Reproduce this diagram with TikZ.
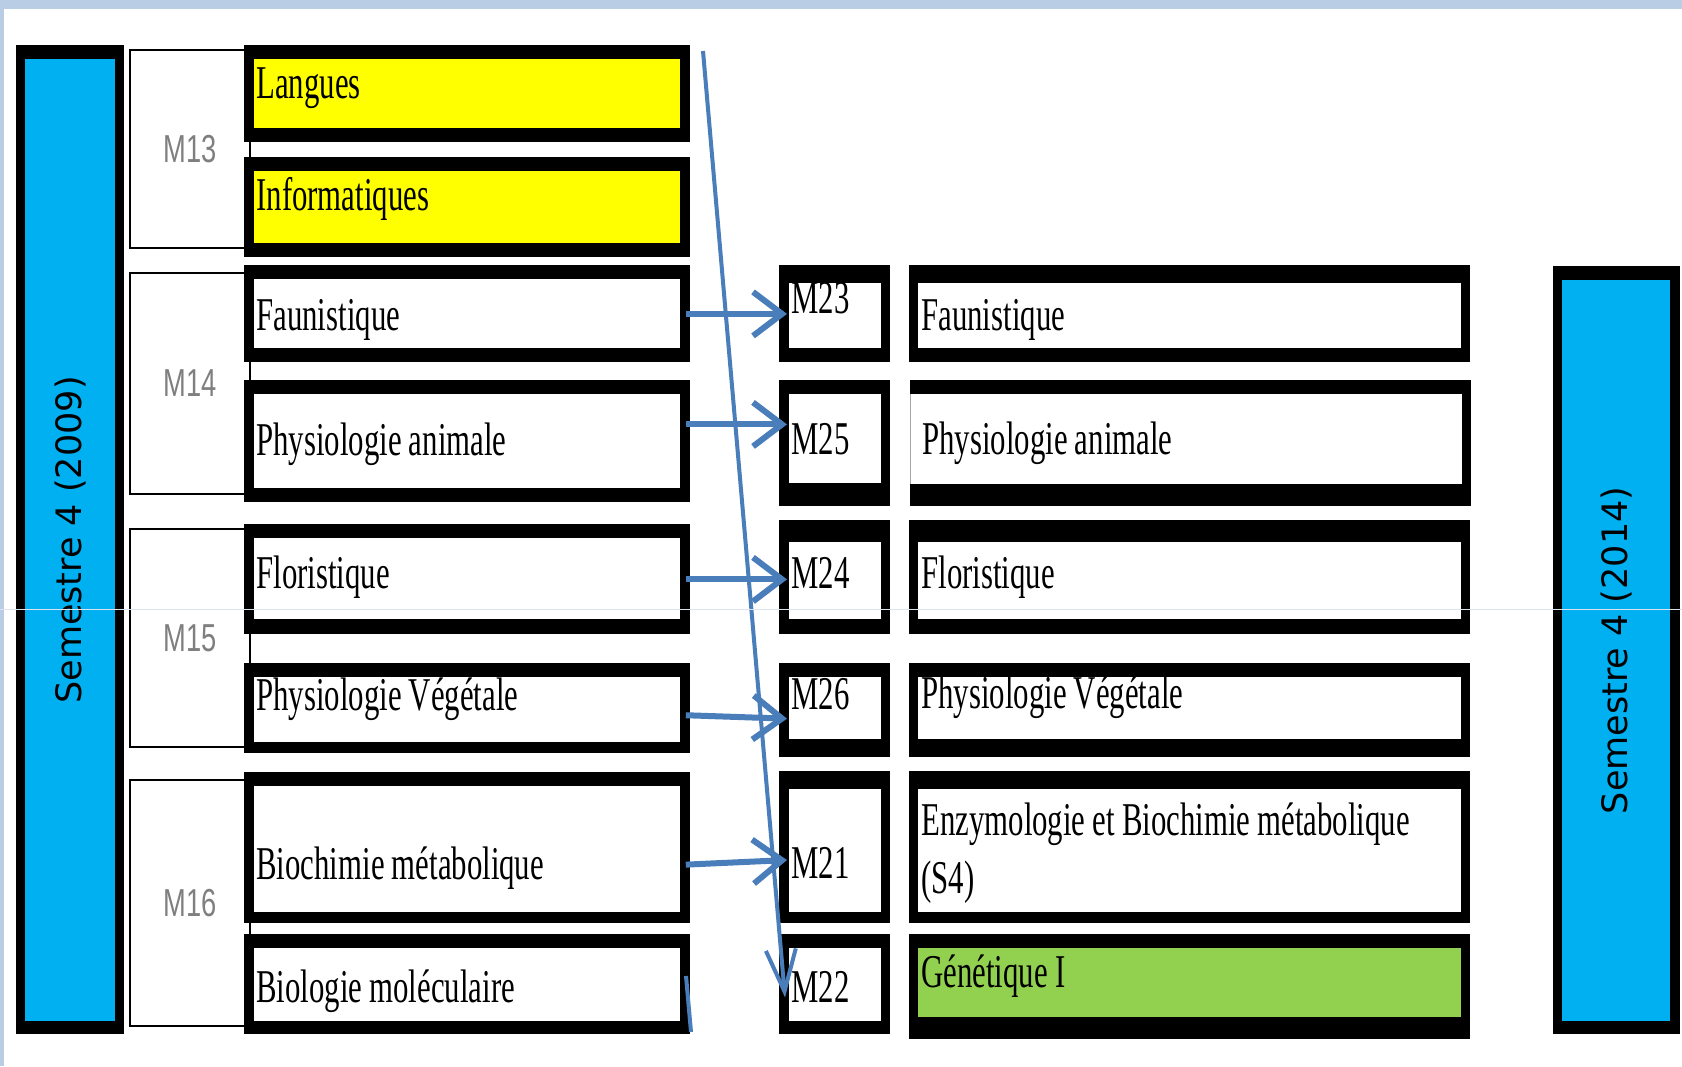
\documentclass[tikz,border=0pt]{standalone}
\usepackage{fontspec}
\usepackage{graphicx}
\usepackage{xcolor}
\usetikzlibrary{arrows.meta}

\newfontfamily\cellfont[FakeStretch=0.655]{Liberation Serif}
\newfontfamily\grpfont[FakeStretch=0.7]{Liberation Sans}
\newfontfamily\semfont{DejaVu Sans}

\definecolor{semblue}{HTML}{00B0F0}
\definecolor{modyellow}{HTML}{FFFF00}
\definecolor{modgreen}{HTML}{92D050}
\definecolor{arrblue}{HTML}{4A7EBB}
\definecolor{frame}{HTML}{B9CDE5}
\definecolor{faint}{HTML}{DAE3EE}
\definecolor{grpgray}{HTML}{7F7F7F}

\begin{document}
\begin{tikzpicture}[
    x=0.5pt, y=-0.5pt,
    cell/.style n args={5}{fill=black, path picture={\fill[#1] ([xshift=#2,yshift=-#3]path picture bounding box.north west) rectangle ([xshift=-#4,yshift=#5]path picture bounding box.south east);}},
    lbox/.style={inner sep=0pt, inner xsep=6pt, anchor=north west, text width=211pt, font={\cellfont\fontsize{23.5}{29}\selectfont}, execute at begin node={\spaceskip=3.6pt\relax\xspaceskip=3.6pt\relax}},
    mbox/.style={lbox, text width=43.5pt},
    rbox/.style={lbox, text width=268.5pt},
    sembar/.style={inner sep=0pt, anchor=north west, font={\semfont\fontsize{17.5}{21}\selectfont}},
    grp/.style={draw, line width=1.25pt, inner sep=0pt, outer sep=0pt, anchor=north west, minimum width=60pt, font={\grpfont\fontsize{19.5}{23}\selectfont}, text=grpgray},
    arr/.style={draw=arrblue, line width=3pt, -{Straight Barb[length=14.5pt, width=22pt]}, shorten <=-2.5pt, shorten >=-4pt},
    diag/.style={draw=arrblue, line width=2pt},
]
\useasboundingbox (0,0) rectangle (1682,1066);
\fill[white] (0,0) rectangle (1682,1066);

% Window frame
\fill[frame] (0,0) rectangle (1682,9);
\fill[frame] (0,0) rectangle (4,1066);

% Module groups (2009)
\node[grp, minimum height=99pt] (m13) at (130,50) {M13};
\node[grp, minimum height=110.5pt] (m14) at (130,273) {M14};
\node[grp, minimum height=109pt] (m15) at (130,529) {M15};
\node[grp, minimum height=123pt] (m16) at (130,780) {M16};

% Semester bars
\node[sembar, cell={semblue}{4.5pt}{7pt}{4.5pt}{6.5pt}, minimum width=54pt, minimum height=494.5pt] (sem09) at (16,45) {\rotatebox{90}{Semestre 4 (2009)}};
\node[sembar, cell={semblue}{4.5pt}{7pt}{5pt}{6.5pt}, minimum width=63.5pt, minimum height=384pt] (sem14) at (1553,266) {\rotatebox{90}{Semestre 4 (2014)}};

% Left column (2009)
\node[lbox, cell={modyellow}{5pt}{7pt}{5pt}{7pt}, text height=26.5pt, text depth=22pt] (langues) at (244,45) {Langues};
\node[lbox, cell={modyellow}{5pt}{7pt}{5pt}{7pt}, text height=26.5pt, text depth=23.5pt] (info) at (244,157) {Informatiques};
\node[lbox, cell={white}{5pt}{7pt}{5pt}{7pt}, text height=32.5pt, text depth=16pt] (faunL) at (244,265) {Faunistique};
\node[lbox, cell={white}{5pt}{7pt}{5pt}{7pt}, text height=37.5pt, text depth=23.5pt] (physAL) at (244,380) {Physiologie animale};
\node[lbox, cell={white}{5pt}{7pt}{5pt}{7.5pt}, text height=32pt, text depth=23pt] (florL) at (244,524) {Floristique};
\node[lbox, cell={white}{5pt}{7pt}{5pt}{5.5pt}, text height=23.5pt, text depth=21.5pt] (physVL) at (244,663) {Physiologie Végétale};
\node[lbox, cell={white}{5pt}{7pt}{5pt}{5.5pt}, text height=53.5pt, text depth=22pt] (biochL) at (244,772) {Biochimie métabolique};
\node[lbox, cell={white}{5pt}{7pt}{5pt}{6.5pt}, text height=34pt, text depth=16pt] (biomol) at (244,934) {Biologie moléculaire};

% Module codes (2014)
\node[mbox, cell={white}{5pt}{9pt}{4.5pt}{7pt}, text height=24pt, text depth=24.5pt] (m23) at (779,265) {M23};
\node[mbox, cell={white}{5pt}{7pt}{4.5pt}{11.5pt}, text height=37pt, text depth=26pt] (m25) at (779,380) {M25};
\node[mbox, cell={white}{5pt}{11pt}{4.5pt}{7.5pt}, text height=34pt, text depth=23pt] (m24) at (779,520) {M24};
\node[mbox, cell={white}{5pt}{7pt}{4.5pt}{9pt}, text height=23pt, text depth=24pt] (m26) at (779,663) {M26};
\node[mbox, cell={white}{5pt}{9pt}{4.5pt}{5.5pt}, text height=53.5pt, text depth=22.5pt] (m21) at (779,771) {M21};
\node[mbox, cell={white}{5pt}{7pt}{4.5pt}{6.5pt}, text height=34pt, text depth=16pt] (m22) at (779,934) {M22};

% Right column (2014)
\node[rbox, cell={white}{4.5pt}{9pt}{4.5pt}{7pt}, text height=32.5pt, text depth=16pt] (faunR) at (909,265) {Faunistique};
\node[rbox, cell={white}{-1pt}{7pt}{4.5pt}{11pt}, text height=37pt, text depth=26pt] (physAR) at (910,380) {Physiologie animale};
\node[rbox, cell={white}{4.5pt}{11pt}{4.5pt}{7.5pt}, text height=34pt, text depth=23pt] (florR) at (909,520) {Floristique};
\node[rbox, cell={white}{4.5pt}{7pt}{4.5pt}{9pt}, text height=22.5pt, text depth=24.5pt] (physVR) at (909,663) {Physiologie Végétale};
\node[rbox, cell={white}{4.5pt}{9pt}{4.5pt}{5.5pt}, text height=32pt, text depth=44pt] (enzymo) at (909,771) {Enzymologie et Biochimie métabolique\\(S4)};
\node[rbox, cell={modgreen}{4.5pt}{7pt}{4.5pt}{11pt}, text height=26.5pt, text depth=26pt] (genet) at (909,934) {Génétique I};

% --- Arrows ---
\draw[arr] (faunL.east) -- (m23.west);
\draw[arr] ([yshift=8.5pt]physAL.east) -- ([yshift=9.5pt]m25.west);
\draw[arr] (florL.east) -- ([yshift=-1pt]m24.west);
\draw[arr] ([yshift=-3.5pt]physVL.east) -- ([yshift=-4pt]m26.west);
\draw[arr] ([yshift=-8.25pt]biochL.east) -- ([yshift=-6.5pt]m21.west);

% Long diagonal
\coordinate (dtop) at (703,51);
\draw[diag, -{Straight Barb[length=21pt, width=15pt]}] (dtop) -- ([xshift=3pt,yshift=-6.5pt]m22.west);

% Stub at Biologie moleculaire
\coordinate (stubA) at (686,976);
\coordinate (stubB) at (691,1032);
\draw[diag] (stubA) -- (stubB);

% Faint guide line
\coordinate (guideL) at (0,609);
\coordinate (guideR) at (1682,609);
\draw[faint, line width=0.5pt] (guideL) -- (guideR);

\end{tikzpicture}
\end{document}
